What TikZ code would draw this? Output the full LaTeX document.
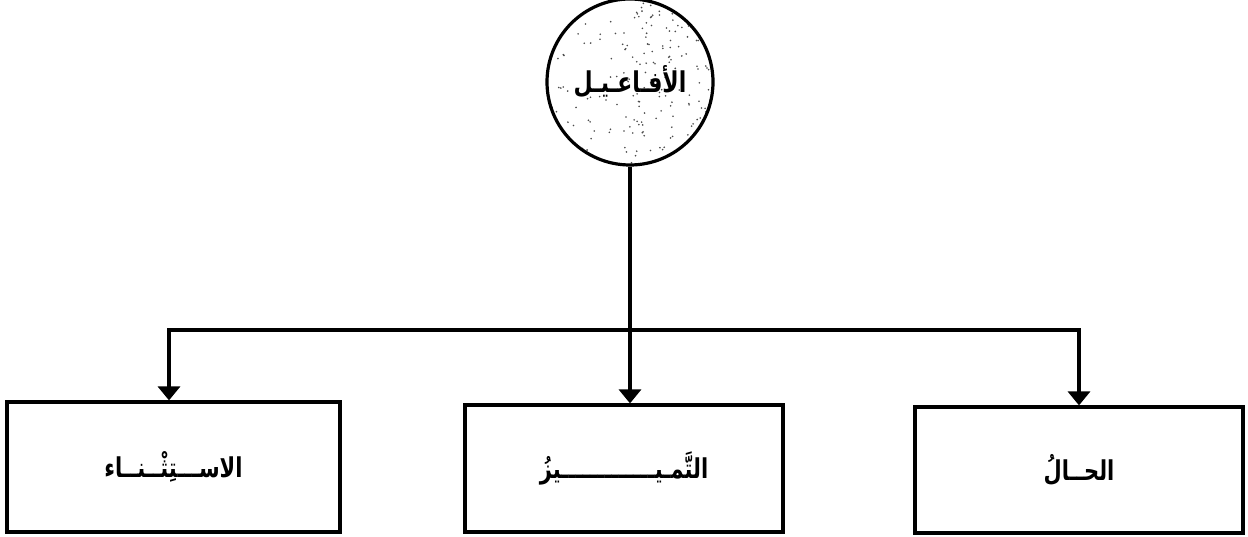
\documentclass[tikz,border=0pt]{standalone}
\usepackage{fontspec}
\newfontfamily\arabicfont[Script=Arabic]{DejaVu Sans}
\TeXXeTstate=1
\usetikzlibrary{arrows.meta}
\newcommand{\artxt}[1]{\scalebox{1}[1.3]{\beginR #1\endR}}
\begin{document}
\begin{tikzpicture}[x=1pt,y=-1pt,
  conn/.style={line width=3.4pt},
  arr/.style={conn,-{Triangle[width=22pt,length=14pt]}},
  box/.style={draw,line width=3.2pt,rectangle,font=\arabicfont\bfseries\fontsize{21}{24}\selectfont},
  rootstyle/.style={circle,draw,line width=3.2pt,minimum size=166pt,inner sep=0pt,font=\arabicfont\bfseries\fontsize{22}{26}\selectfont}]
\useasboundingbox (0,0) rectangle (1248,537);
\fill[white] (0,0) rectangle (1248,537);
\begin{scope}
  \clip (630,82) circle (83);
  \pgfmathsetseed{7}
  \foreach \i in {1,...,120}{
    \fill[black!70] (630+83*rand,82+83*rand) circle (0.9);
  }
  \foreach \i in {1,...,100}{
    \fill[black!70] (670+45*rand,82+83*rand) circle (0.9);
  }
\end{scope}
\node[rootstyle] (root) at (630,82) {\artxt{الأفـاعـيـل}};
\node[box,minimum width=333pt,minimum height=130pt] (left) at (173.5,467) {\artxt{الاســـتِثْــنــاء}};
\node[box,minimum width=318pt,minimum height=127pt] (mid) at (624,468.5) {\artxt{التَّمـيـــــــــــــيزُ}};
\node[box,minimum width=328pt,minimum height=126pt] (right) at (1079,470) {\artxt{الحــالُ}};
\coordinate (bar) at (630,330);
\draw[arr] (root.south) -- (root.south |- mid.north);
\draw[arr] (bar) -| ([xshift=-4.5pt]left.north);
\draw[arr] (bar) -| (right.north);
\end{tikzpicture}
\end{document}
